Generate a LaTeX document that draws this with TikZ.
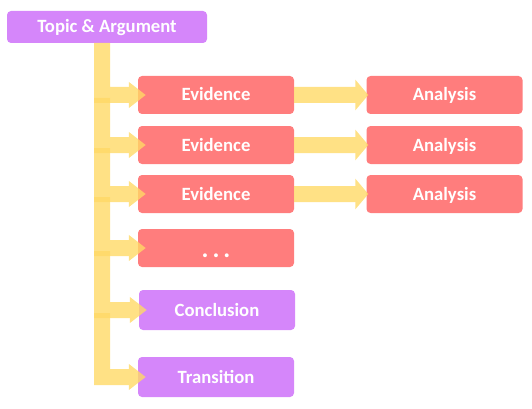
\documentclass[tikz,border=0pt]{standalone}
\usepackage{fontspec}
\setmainfont{Carlito}
\usetikzlibrary{arrows.meta}
\definecolor{boxred}{HTML}{FF7D7D}
\definecolor{boxviolet}{HTML}{D586FA}
\definecolor{flowyellow}{HTML}{FFD966}
\tikzset{
  box/.style={rounded corners=4pt, minimum width=156pt, minimum height=38pt, inner sep=0pt,
    text=white, font=\fontsize{18.7}{20}\selectfont\bfseries, text height=14pt, text depth=2pt},
  redbox/.style={box, fill=boxred},
  violetbox/.style={box, fill=boxviolet},
  flow/.style={draw=flowyellow, line width=16pt, shorten >=-8pt, -{Triangle[length=17pt,width=25pt]}},
  sideflow/.style={draw=flowyellow, line width=16pt, shorten >=-2pt, -{Triangle[length=13pt,width=30pt]}}
}
\begin{document}
\begin{tikzpicture}[x=1pt,y=-1pt]
\useasboundingbox (0,0) rectangle (532,409);
% boxes
\node [violetbox, minimum width=200pt, minimum height=32pt] (topic) at (107,27) {Topic \& Argument};
\node [redbox] (ev1) at (216,95) {Evidence};
\node [redbox] (ev2) at (216,145) {Evidence};
\node [redbox] (ev3) at (216,194) {Evidence};
\node [redbox, font=\fontsize{26}{28}\selectfont\bfseries, text height=19pt, text depth=0pt] (dots) at (216,248) {.\kern4pt.\kern4pt.};
\node [violetbox, minimum height=40pt] (concl) at (217,310) {Conclusion};
\node [violetbox, minimum height=40pt] (trans) at (216,377) {Transition};
\node [redbox] (an1) at (444.5,95) {Analysis};
\node [redbox] (an2) at (444.5,145) {Analysis};
\node [redbox] (an3) at (444.5,194) {Analysis};
% trunk arrows
\coordinate (t0) at (102,43);
\coordinate (t1) at ([yshift=-3pt]ev1.center -| t0);
\coordinate (t2) at ([yshift=-3pt]ev2.center -| t0);
\coordinate (t3) at ([yshift=-3pt]ev3.center -| t0);
\coordinate (t4) at ([yshift=-3pt]dots.center -| t0);
\coordinate (t5) at ([yshift=-3pt]concl.center -| t0);
\foreach \from/\to in {t0/ev1, t1/ev2, t2/ev3, t3/dots, t4/concl, t5/trans}{
  \begin{scope}[transparency group, opacity=.8]
    \draw [flow] (\from) |- (\to.west);
  \end{scope}
}
% evidence to analysis
\foreach \i in {1,2,3}{
  \begin{scope}[transparency group, opacity=.8]
    \draw [sideflow] (ev\i.east) -- (an\i.west);
  \end{scope}
}
\end{tikzpicture}
\end{document}
